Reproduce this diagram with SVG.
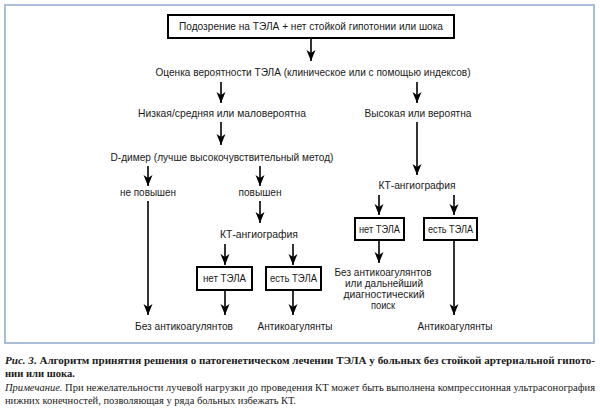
<svg xmlns="http://www.w3.org/2000/svg" width="600" height="413" viewBox="0 0 600 413">
<defs>
<marker id="ah" markerUnits="userSpaceOnUse" markerWidth="11" markerHeight="10" refX="11" refY="5" orient="auto" viewBox="0 0 11 10">
<path d="M0,0.5 L11,5 L0,9.5 L3,5 Z" fill="#000"/>
</marker>
<style>
.t{font-family:"Liberation Sans",Arial,sans-serif;font-size:10.5px;fill:#1a1a1a;text-anchor:middle}
.b{fill:#fff;stroke:#000;stroke-width:2}
.c line{stroke:#000;stroke-width:1.6}
.a{marker-end:url(#ah)}
.cap{font-family:"Liberation Serif","Times New Roman",serif;font-size:10.5px;fill:#1a1a1a}
</style>
</defs>
<rect width="600" height="413" fill="#fff"/>
<rect x="5" y="5" width="589" height="338" fill="#fff" stroke="#a9bcd8" stroke-width="2"/>

<g id="connectors" class="c">
<line class="a" x1="311" y1="39" x2="311" y2="61"/>
<line class="a" x1="221" y1="82" x2="221" y2="103"/>
<line class="a" x1="417" y1="82" x2="417" y2="103"/>
<line class="a" x1="221" y1="122" x2="221" y2="145"/>
<line class="a" x1="417" y1="122" x2="417" y2="175"/>
<line class="a" x1="148" y1="166" x2="148" y2="186"/>
<line class="a" x1="260" y1="166" x2="260" y2="186"/>
<line class="a" x1="379" y1="195" x2="379" y2="215"/>
<line class="a" x1="454" y1="195" x2="454" y2="215"/>
<line class="a" x1="148" y1="201" x2="148" y2="315"/>
<line class="a" x1="260" y1="201" x2="260" y2="223"/>
<line class="a" x1="225" y1="244" x2="225" y2="265"/>
<line class="a" x1="293" y1="244" x2="293" y2="265"/>
<line class="a" x1="225" y1="291" x2="225" y2="315"/>
<line class="a" x1="293" y1="291" x2="293" y2="315"/>
<line class="a" x1="379" y1="241" x2="379" y2="263"/>
<line class="a" x1="454" y1="241" x2="454" y2="315"/>
</g>

<g id="n-start">
<rect class="b" x="168" y="15" width="286" height="23"/>
<text class="t" x="311" y="30" textLength="264" lengthAdjust="spacingAndGlyphs">Подозрение на ТЭЛА + нет стойкой гипотонии или шока</text>
</g>
<g id="n-assess">
<text class="t" x="313" y="76" textLength="315" lengthAdjust="spacingAndGlyphs">Оценка вероятности ТЭЛА (клиническое или с помощью индексов)</text>
</g>
<g id="n-low">
<text class="t" x="222" y="117" textLength="168" lengthAdjust="spacingAndGlyphs">Низкая/средняя или маловероятна</text>
</g>
<g id="n-high">
<text class="t" x="418" y="117" textLength="107" lengthAdjust="spacingAndGlyphs">Высокая или вероятна</text>
</g>
<g id="n-ddimer">
<text class="t" x="222" y="161" textLength="223" lengthAdjust="spacingAndGlyphs">D-димер (лучше высокочувствительный метод)</text>
</g>
<g id="n-notraised">
<text class="t" x="148" y="196" textLength="56" lengthAdjust="spacingAndGlyphs">не повышен</text>
</g>
<g id="n-raised">
<text class="t" x="260" y="196" textLength="43" lengthAdjust="spacingAndGlyphs">повышен</text>
</g>
<g id="n-ct-right">
<text class="t" x="417" y="189" textLength="77" lengthAdjust="spacingAndGlyphs">КТ-ангиография</text>
</g>
<g id="n-ct-left">
<text class="t" x="259" y="238" textLength="78" lengthAdjust="spacingAndGlyphs">КТ-ангиография</text>
</g>
<g id="n-no-pe-right">
<rect class="b" x="355" y="218" width="49" height="22"/>
<text class="t" x="379.5" y="233" textLength="41" lengthAdjust="spacingAndGlyphs">нет ТЭЛА</text>
</g>
<g id="n-pe-right">
<rect class="b" x="424" y="218" width="53" height="22"/>
<text class="t" x="450.5" y="233" textLength="45" lengthAdjust="spacingAndGlyphs">есть ТЭЛА</text>
</g>
<g id="n-no-pe-left">
<rect class="b" x="197" y="267" width="55" height="23"/>
<text class="t" x="224.5" y="282" textLength="43" lengthAdjust="spacingAndGlyphs">нет ТЭЛА</text>
</g>
<g id="n-pe-left">
<rect class="b" x="266" y="267" width="55" height="23"/>
<text class="t" x="293.5" y="282" textLength="47" lengthAdjust="spacingAndGlyphs">есть ТЭЛА</text>
</g>
<g id="n-noanticoag-right">
<text class="t" x="383" y="276" textLength="97" lengthAdjust="spacingAndGlyphs">Без антикоагулянтов</text>
<text class="t" x="384" y="287" textLength="78" lengthAdjust="spacingAndGlyphs">или дальнейший</text>
<text class="t" x="384" y="298" textLength="81" lengthAdjust="spacingAndGlyphs">диагностический</text>
<text class="t" x="383" y="309" textLength="24" lengthAdjust="spacingAndGlyphs">поиск</text>
</g>
<g id="n-noanticoag-left">
<text class="t" x="184" y="330" textLength="98" lengthAdjust="spacingAndGlyphs">Без антикоагулянтов</text>
</g>
<g id="n-anticoag-mid">
<text class="t" x="295" y="330" textLength="75" lengthAdjust="spacingAndGlyphs">Антикоагулянты</text>
</g>
<g id="n-anticoag-right">
<text class="t" x="455" y="330" textLength="75" lengthAdjust="spacingAndGlyphs">Антикоагулянты</text>
</g>

<g id="caption" class="cap">
<text x="5" y="364" textLength="590" lengthAdjust="spacingAndGlyphs" font-weight="bold"><tspan font-style="italic">Рис. 3</tspan>. Алгоритм принятия решения о патогенетическом лечении ТЭЛА у больных без стойкой артериальной гипото-</text>
<text x="5" y="377" font-weight="bold" textLength="70" lengthAdjust="spacingAndGlyphs">нии или шока.</text>
<text x="5" y="391" textLength="590" lengthAdjust="spacingAndGlyphs"><tspan font-style="italic">Примечание.</tspan> При нежелательности лучевой нагрузки до проведения КТ может быть выполнена компрессионная ультрасонография</text>
<text x="5" y="404" textLength="291" lengthAdjust="spacingAndGlyphs">нижних конечностей, позволяющая у ряда больных избежать КТ.</text>
</g>
</svg>
